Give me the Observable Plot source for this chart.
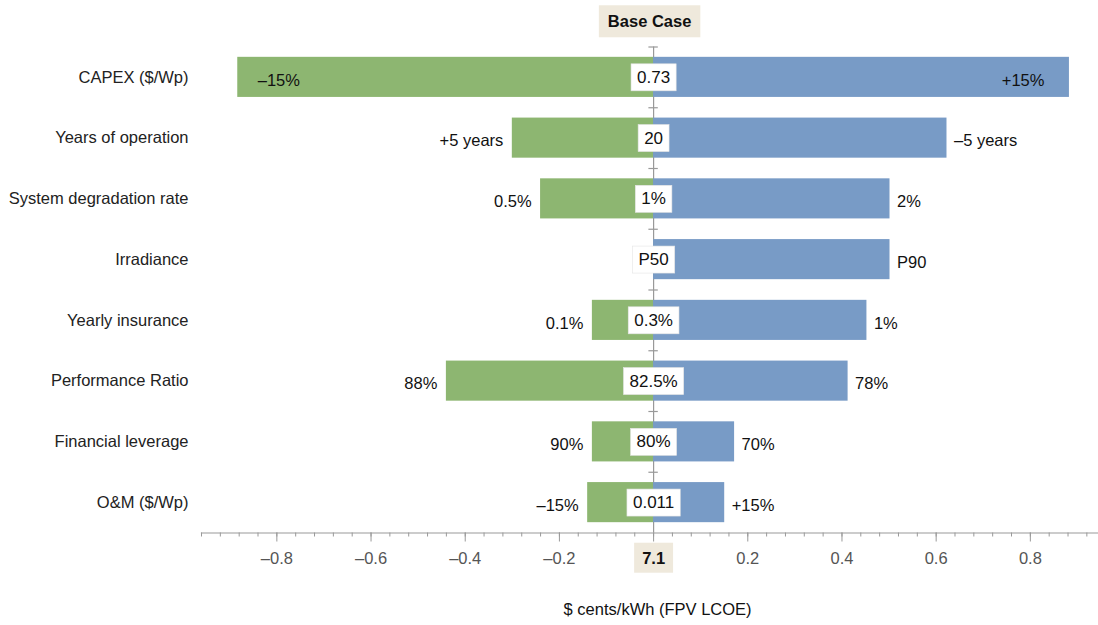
<!DOCTYPE html>
<html>
<head>
<meta charset="utf-8">
<script src="https://cdn.jsdelivr.net/npm/d3@7"></script>
<script src="https://cdn.jsdelivr.net/npm/@observablehq/plot@0.6"></script>
<style>
  html, body { margin: 0; padding: 0; background: #fff; }
</style>
</head>
<body>
<div id="chart"></div>
<script>
const categories = ["CAPEX ($/Wp)", "Years of operation", "System degradation rate", "Irradiance", "Yearly insurance", "Performance Ratio", "Financial leverage", "O&M ($/Wp)"];
const lowValues  = [-0.883, -0.30, -0.24, 0, -0.13, -0.44, -0.13, -0.14];
const highValues = [0.883, 0.623, 0.502, 0.502, 0.453, 0.413, 0.172, 0.151];
const lowLabels  = ["–15%", "+5 years", "0.5%", "", "0.1%", "88%", "90%", "–15%"];
const highLabels = ["+15%", "–5 years", "2%", "P90", "1%", "78%", "70%", "+15%"];
const baseLabels = ["0.73", "20", "1%", "P50", "0.3%", "82.5%", "80%", "0.011"];
const baseCaseValue = "7.1";
const majorTicks = [-0.8, -0.6, -0.4, -0.2, 0, 0.2, 0.4, 0.6, 0.8];
const minorTicks = d3.range(-24, 24).map(i => +(i * 0.04).toFixed(2));

const rows = categories.map((c, i) => ({
  cat: c, low: lowValues[i], high: highValues[i],
  lowLabel: lowLabels[i], highLabel: highLabels[i], base: baseLabels[i]
}));

const green = "#8db671";
const blue = "#789bc6";
const W = 1098, H = 625, mT = 46.5, mB = 92.5;
const step = (H - mT - mB) / categories.length;
const insideLimit = 0.8;

const fmt = d => d === 0 ? baseCaseValue : (d < 0 ? "–" : "") + Math.abs(d).toFixed(1);

const svg = Plot.plot({
  width: W, height: H,
  marginLeft: 201, marginRight: 1, marginTop: mT, marginBottom: mB,
  style: {fontFamily: "'Liberation Sans', Arial, sans-serif", fontSize: "16.5px", color: "#000", background: "#fff"},
  x: {domain: [-0.96, 0.9426]},
  y: {domain: categories, paddingInner: 0.34, paddingOuter: 0.17, round: false},
  marks: [
    Plot.ruleX([0], {stroke: "#999", strokeWidth: 1.2}),
    Plot.ruleY(categories, {y: d => d, x1: -0.01, x2: 0.01, dy: -step / 2, stroke: "#999", strokeWidth: 1.2}),
    Plot.barX(rows, {y: "cat", x1: 0, x2: "low", fill: green}),
    Plot.barX(rows, {y: "cat", x1: 0, x2: "high", fill: blue}),
    Plot.frame({anchor: "bottom", stroke: "#999", strokeWidth: 1.2}),
    Plot.axisX({ticks: minorTicks, tickSize: 4, tickFormat: () => "", stroke: "#999", label: null}),
    Plot.axisX({ticks: majorTicks, tickSize: 9, tickPadding: 10, tickFormat: fmt, stroke: "#999", fill: "#555", fontSize: 16.5, label: null}),
    Plot.axisY({tickSize: 0, tickPadding: 13, fontSize: 16.5, fill: "#222", label: null}),
    // outside labels
    Plot.text(rows.filter(r => r.lowLabel && Math.abs(r.low) < insideLimit), {x: "low", y: "cat", text: "lowLabel", textAnchor: "end", dx: -9, dy: 3, fill: "#111"}),
    Plot.text(rows.filter(r => r.highLabel && Math.abs(r.high) < insideLimit), {x: "high", y: "cat", text: "highLabel", textAnchor: "start", dx: 7, dy: 3, fill: "#111"}),
    // inside labels for long bars
    Plot.text(rows.filter(r => r.lowLabel && Math.abs(r.low) >= insideLimit), {x: "low", y: "cat", text: "lowLabel", textAnchor: "start", dx: 20, dy: 3, fill: "#111"}),
    Plot.text(rows.filter(r => r.highLabel && Math.abs(r.high) >= insideLimit), {x: "high", y: "cat", text: "highLabel", textAnchor: "end", dx: -25, dy: 3, fill: "#111"}),
    // base case values
    Plot.text(rows, {x: 0, y: "cat", text: "base", fill: "#111", fontSize: 17, ariaDescription: "base-labels"}),
    Plot.text(["Base Case"], {x: 0, frameAnchor: "top", lineAnchor: "middle", dy: -25, dx: -4, text: d => d, fontWeight: "bold", fill: "#111", ariaDescription: "base-case"}),
    Plot.text(["$ cents/kWh (FPV LCOE)"], {x: 0, frameAnchor: "bottom", lineAnchor: "middle", dy: 77, dx: 4, text: d => d, fontSize: 16.5, fill: "#111"})
  ]
});

document.getElementById("chart").append(svg);

function addBox(t, px, py, fill, stroke) {
  const b = t.getBBox();
  const r = document.createElementNS("http://www.w3.org/2000/svg", "rect");
  r.setAttribute("x", b.x - px);
  r.setAttribute("y", b.y - py);
  r.setAttribute("width", b.width + 2 * px);
  r.setAttribute("height", b.height + 2 * py);
  r.setAttribute("fill", fill);
  if (stroke) { r.setAttribute("stroke", stroke); r.setAttribute("stroke-width", 0.6); }
  const tr = t.getAttribute("transform");
  if (tr) r.setAttribute("transform", tr);
  t.parentNode.insertBefore(r, t);
}

d3.select(svg).selectAll('[aria-description="base-labels"] text').each(function() { addBox(this, 6, 4, "#fff", "#e4e4e4"); });
d3.select(svg).selectAll('[aria-description="base-case"] text').each(function() { addBox(this, 9, 7, "#efe9dc", null); });
d3.select(svg).selectAll('text').each(function() {
  if (this.textContent === baseCaseValue) {
    d3.select(this).attr("font-weight", "bold").attr("fill", "#111");
    addBox(this, 8, 6, "#efe9dc", null);
  }
});
</script>
</body>
</html>
